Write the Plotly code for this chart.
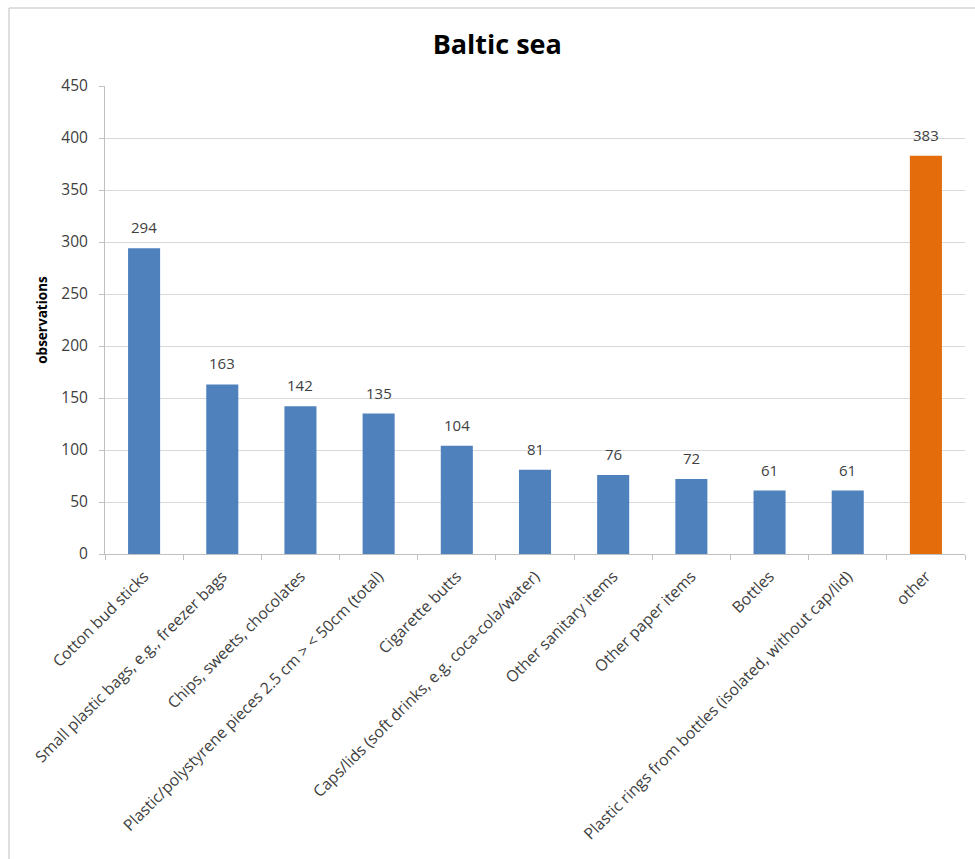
import plotly.graph_objects as go

categories = [
    "Cotton bud sticks",
    "Small plastic bags, e.g., freezer bags",
    "Chips, sweets, chocolates",
    "Plastic/polystyrene pieces 2.5 cm > < 50cm (total)",
    "Cigarette butts",
    "Caps/lids (soft drinks, e.g. coca-cola/water)",
    "Other sanitary items",
    "Other paper items",
    "Bottles",
    "Plastic rings from bottles (isolated, without cap/lid)",
    "other",
]
values = [294, 163, 142, 135, 104, 81, 76, 72, 61, 61, 383]
bar_colors = ["#4F81BD"] * 10 + ["#E46C0A"]
y_ticks = [0, 50, 100, 150, 200, 250, 300, 350, 400, 450]

W, H = 975, 859
fig = go.Figure(go.Bar(
    x=categories, y=values,
    marker=dict(color=bar_colors, line=dict(width=0)),
    width=0.41,
))

for c, v in zip(categories, values):
    fig.add_annotation(x=c, y=v, text=str(v), showarrow=False,
                       xref="x", yref="y", yanchor="bottom", yshift=9,
                       font=dict(family="Open Sans, sans-serif", size=15, color="#404040"))

fig.update_layout(
    width=W, height=H,
    margin=dict(l=105, r=10, t=86, b=305),
    paper_bgcolor="white", plot_bgcolor="white",
    showlegend=False,
    font=dict(family="Open Sans, sans-serif", color="#404040"),
    title=dict(text="<b>Baltic sea</b>", x=0.51, xanchor="center", y=1 - 45 / H, yanchor="middle",
               font=dict(family="Open Sans, sans-serif", size=27, color="#000000")),
    xaxis=dict(
        tickangle=-45, tickfont=dict(size=15.8, color="#404040"),
        showline=True, linecolor="#BFBFBF", linewidth=1,
        ticks="outside", tickson="boundaries", ticklen=5, tickcolor="#BFBFBF",
        ticklabelstandoff=6,
        showgrid=False, automargin=False,
    ),
    yaxis=dict(
        range=[0, 450], tickvals=y_ticks,
        tickfont=dict(size=15.5, color="#404040"),
        showline=True, linecolor="#BFBFBF", linewidth=1,
        ticks="outside", ticklen=5, tickcolor="#BFBFBF",
        ticklabelstandoff=8,
        showgrid=True, gridcolor="#D9D9D9", gridwidth=1,
        zeroline=False, automargin=False,
        title=dict(text="<b>observations</b>", font=dict(size=13.5, color="#000000"), standoff=10),
    ),
    shapes=[
        dict(type="line", xref="paper", yref="paper",
             x0=(9 - 105) / (W - 115), x1=1.02, y0=1 + (86 - 8) / (H - 391), y1=1 + (86 - 8) / (H - 391),
             line=dict(color="#BFBFBF", width=1)),
        dict(type="line", xref="paper", yref="paper",
             x0=(9 - 105) / (W - 115), x1=(9 - 105) / (W - 115), y0=-1, y1=1 + (86 - 8) / (H - 391),
             line=dict(color="#BFBFBF", width=1)),
    ],
)

fig.write_html("out.html")
